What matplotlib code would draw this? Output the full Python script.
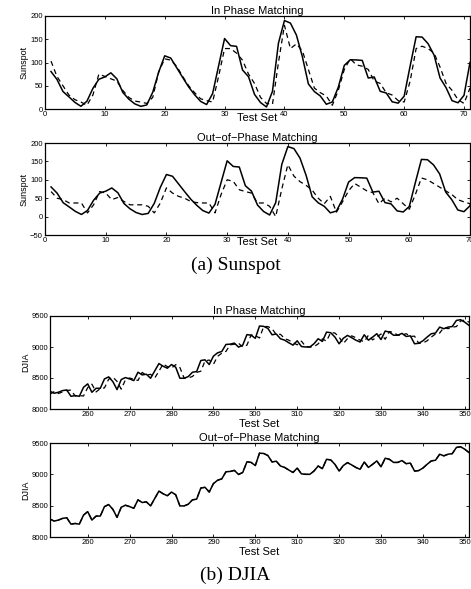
import numpy as np
import matplotlib
matplotlib.use('Agg')
import matplotlib.pyplot as plt

plt.rcParams['font.family'] = ['Liberation Sans', 'DejaVu Sans']

#####################################
# data
#####################################
# sunspot test set (x = 1..71)
sunX = np.arange(1, 72)
sunActual = [80.6, 63.6, 37.6, 26.1, 14.2, 5.8, 16.7, 44.3, 63.9, 69.0,
             77.8, 64.9, 35.7, 21.2, 11.1, 5.7, 8.7, 36.1, 79.7, 114.4,
             109.6, 88.8, 67.8, 47.5, 30.6, 16.3, 9.6, 33.2, 92.6, 151.6,
             136.3, 134.7, 83.9, 69.4, 31.5, 13.9, 4.4, 38.0, 141.7, 190.2,
             184.8, 159.0, 112.3, 53.9, 37.5, 27.9, 10.2, 15.1, 47.0, 93.8,
             105.9, 105.5, 104.5, 66.6, 68.9, 38.0, 34.5, 15.5, 12.6, 27.5,
             92.5, 155.4, 154.6, 140.4, 115.9, 66.6, 45.9, 17.9, 13.4, 29.4,
             100.2]
sunInPhase = [103, 70, 50, 30, 20, 15, 8, 30, 75, 70,
              65, 60, 40, 25, 17, 15, 12, 25, 80, 108,
              105, 92, 70, 50, 35, 22, 18, 15, 70, 130,
              130, 120, 105, 75, 55, 25, 12, 10, 100, 180,
              130, 140, 125, 85, 45, 35, 28, 8, 40, 85,
              108, 95, 92, 85, 60, 55, 35, 30, 18, 15,
              60, 130, 135, 130, 120, 90, 55, 40, 20, 12,
              45]
sunOutPhase = [68, 50, 46, 37, 37, 37, 10, 32, 68, 64,
               46, 52, 41, 32, 32, 32, 28, 10, 37, 78,
               64, 55, 50, 41, 38, 37, 37, 10, 60, 100,
               96, 73, 68, 64, 37, 37, 28, 0, 75, 141,
               110, 95, 85, 72, 50, 35, 55, 12, 40, 70,
               90, 80, 70, 65, 35, 50, 40, 50, 35, 20,
               60, 105, 100, 90, 80, 70, 60, 46, 40, 35,
               25]

# DJIA test set (x = 251..351)
djiaX = np.arange(251, 352)
djiaActual = [8286, 8254, 8270, 8297, 8307, 8205, 8216, 8205, 8350, 8405,
              8270, 8334, 8334, 8485, 8518, 8442, 8313, 8475, 8507, 8485,
              8458, 8593, 8550, 8561, 8496, 8615, 8733, 8690, 8658, 8717,
              8674, 8496, 8496, 8523, 8593, 8604, 8782, 8793, 8717, 8852,
              8906, 8928, 9041, 9046, 9063, 8998, 9030, 9200, 9190, 9140,
              9338, 9333, 9300, 9197, 9210, 9133, 9110, 9068, 9030, 9100,
              9008, 9000, 9000, 9052, 9133, 9090, 9240, 9230, 9160, 9052,
              9140, 9187, 9150, 9110, 9080, 9197, 9110, 9160, 9214, 9120,
              9257, 9240, 9190, 9190, 9220, 9170, 9180, 9052, 9060, 9100,
              9160, 9214, 9225, 9321, 9295, 9321, 9330, 9429, 9440, 9400,
              9348]
djiaInPhase = [8240, 8280, 8250, 8275, 8300, 8305, 8210, 8215, 8210, 8345,
               8400, 8275, 8330, 8340, 8480, 8515, 8445, 8320, 8470, 8500,
               8480, 8460, 8590, 8545, 8560, 8500, 8610, 8725, 8685, 8660,
               8715, 8670, 8500, 8500, 8525, 8590, 8610, 8775, 8790, 8720,
               8850, 8900, 8930, 9035, 9045, 9060, 9000, 9030, 9195, 9185,
               9145, 9330, 9330, 9295, 9200, 9205, 9135, 9110, 9070, 9035,
               9095, 9010, 9000, 9005, 9050, 9130, 9095, 9235, 9225, 9160,
               9055, 9135, 9180, 9150, 9110, 9085, 9190, 9115, 9160, 9210,
               9125, 9250, 9235, 9190, 9190, 9215, 9170, 9175, 9060, 9065,
               9100, 9160, 9210, 9225, 9315, 9295, 9320, 9330, 9420, 9435,
               9400]
djiaOutPhase = djiaActual

W, H = 471, 589
fig = plt.figure(figsize=(W / 100, H / 100), dpi=100)


def makeAxes(left, top, right, bottom):
    # pixel box -> figure fraction
    return fig.add_axes([left / W, 1 - bottom / H, (right - left) / W, (bottom - top) / H])


def styleAxes(ax, title, ylabel, xpad):
    ax.set_title(title, fontsize=8, pad=1.5)
    ax.set_ylabel(ylabel, fontsize=6.5, labelpad=1)
    ax.set_xlabel('Test Set', fontsize=8, labelpad=xpad)
    ax.tick_params(direction='in', top=True, right=True, labelsize=5.5,
                   length=2.5, width=0.6, pad=1.5)
    for s in ax.spines.values():
        s.set_linewidth(0.9)


def drawPair(ax, x, actual, pred):
    ax.plot(x, actual, color='black', lw=1.1)
    ax.plot(x, pred, color='black', lw=0.9, dashes=(4, 3))


#####################################
# Sunspot
#####################################
ax1 = makeAxes(45, 16, 470, 109)
drawPair(ax1, sunX, sunActual, sunInPhase)
ax1.set_xlim(0, 71)
ax1.set_ylim(0, 200)
ax1.set_xticks(range(0, 71, 10))
ax1.set_yticks(range(0, 201, 50))
styleAxes(ax1, 'In Phase Matching', 'Sunspot', -4)

ax2 = makeAxes(45, 143, 470, 235)
drawPair(ax2, sunX, sunActual, sunOutPhase)
ax2.set_xlim(0, 70)
ax2.set_ylim(-50, 200)
ax2.set_xticks(range(0, 71, 10))
ax2.set_yticks(range(-50, 201, 50))
styleAxes(ax2, 'Out\u2212of\u2212Phase Matching', 'Sunspot', -5)

fig.text(0.5, 1 - 265 / H, '(a) Sunspot', ha='center', va='center',
         family='Liberation Serif', fontsize=14)

#####################################
# DJIA
#####################################
ax3 = makeAxes(50, 316, 469, 409)
drawPair(ax3, djiaX, djiaActual, djiaInPhase)
ax3.set_xlim(251, 351)
ax3.set_ylim(8000, 9500)
ax3.set_xticks(range(260, 351, 10))
ax3.set_yticks(range(8000, 9501, 500))
styleAxes(ax3, 'In Phase Matching', 'DJIA', 0.5)

ax4 = makeAxes(50, 443, 469, 537)
drawPair(ax4, djiaX, djiaActual, djiaOutPhase)
ax4.set_xlim(251, 351)
ax4.set_ylim(8000, 9500)
ax4.set_xticks(range(260, 351, 10))
ax4.set_yticks(range(8000, 9501, 500))
styleAxes(ax4, 'Out\u2212of\u2212Phase Matching', 'DJIA', 0.5)

fig.text(0.5, 1 - 575 / H, '(b) DJIA', ha='center', va='center',
         family='Liberation Serif', fontsize=14)

fig.savefig('out.png', dpi=100)
